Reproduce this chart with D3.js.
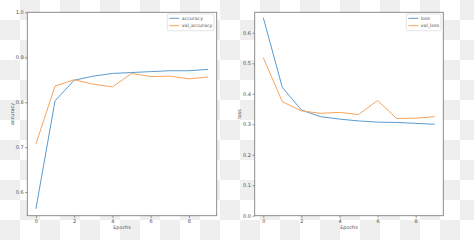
<!DOCTYPE html>
<html>
<head>
<meta charset="utf-8">
<script src="https://cdn.jsdelivr.net/npm/d3@7"></script>
<style>
  body { margin: 0; }
  svg { display: block; font-family: "DejaVu Sans", sans-serif; }
</style>
</head>
<body>
<svg id="chart" width="474" height="240"></svg>
<script>
// Data
var epochs = [0, 1, 2, 3, 4, 5, 6, 7, 8, 9];
var accuracy = [0.563, 0.803, 0.849, 0.858, 0.864, 0.866, 0.868, 0.870, 0.870, 0.873];
var valAccuracy = [0.707, 0.836, 0.850, 0.840, 0.834, 0.864, 0.857, 0.858, 0.852, 0.856];
var loss = [0.650, 0.421, 0.347, 0.325, 0.317, 0.311, 0.307, 0.306, 0.303, 0.300];
var valLoss = [0.519, 0.374, 0.344, 0.336, 0.339, 0.332, 0.378, 0.319, 0.320, 0.325];
var xTicks = [0, 2, 4, 6, 8];
var accTicks = [0.6, 0.7, 0.8, 0.9, 1.0];
var lossTicks = [0, 0.1, 0.2, 0.3, 0.4, 0.5, 0.6];

var blue = "#5b9bcf";
var orange = "#f7a45e";
var textColor = "#4d4d4d";

var svg = d3.select("#chart");

// Transparent background checkerboard
var defs = svg.append("defs");
var pat = defs.append("pattern")
    .attr("id", "checker")
    .attr("width", 40).attr("height", 40)
    .attr("patternUnits", "userSpaceOnUse");
pat.append("rect").attr("width", 40).attr("height", 40).attr("fill", "#ffffff");
pat.append("rect").attr("x", 20).attr("y", 0).attr("width", 20).attr("height", 20).attr("fill", "#efefef");
pat.append("rect").attr("x", 0).attr("y", 20).attr("width", 20).attr("height", 20).attr("fill", "#efefef");
svg.append("rect").attr("width", 474).attr("height", 240).attr("fill", "url(#checker)");

function drawPanel(opts) {
    var x = d3.scaleLinear()
        .domain([-0.45, 9.45])
        .range([opts.left, opts.right]);
    var y = d3.scaleLinear()
        .domain(opts.yDomain)
        .range([opts.bottom, opts.top]);

    var g = svg.append("g");

    g.append("rect")
        .attr("x", opts.left).attr("y", opts.top)
        .attr("width", opts.right - opts.left)
        .attr("height", opts.bottom - opts.top)
        .attr("fill", "#ffffff");

    // axes
    var xAxis = g.append("g")
        .attr("transform", "translate(0," + opts.bottom + ")")
        .call(d3.axisBottom(x).tickValues(xTicks).tickSize(2.2).tickPadding(1.5).tickFormat(d3.format("d")));
    var yAxis = g.append("g")
        .attr("transform", "translate(" + opts.left + ",0)")
        .call(d3.axisLeft(y).tickValues(opts.yTicks).tickSize(2.2).tickPadding(1.5).tickFormat(d3.format(".1f")));
    [xAxis, yAxis].forEach(function(a) {
        a.attr("color", textColor).attr("font-family", "DejaVu Sans").attr("font-size", 5);
        a.select(".domain").remove();
        a.selectAll("line").attr("stroke", "#777").attr("stroke-width", 0.8);
        a.selectAll("text").attr("fill", textColor);
    });

    var line = d3.line()
        .x(function(d, i) { return x(epochs[i]); })
        .y(function(d) { return y(d); });

    g.append("path").datum(opts.train)
        .attr("fill", "none").attr("stroke", blue).attr("stroke-width", 1)
        .attr("d", line);
    g.append("path").datum(opts.val)
        .attr("fill", "none").attr("stroke", orange).attr("stroke-width", 1)
        .attr("d", line);

    // frame
    g.append("rect")
        .attr("x", opts.left).attr("y", opts.top)
        .attr("width", opts.right - opts.left)
        .attr("height", opts.bottom - opts.top)
        .attr("fill", "none").attr("stroke", "#808080").attr("stroke-width", 0.9);

    // labels
    g.append("text")
        .attr("x", (opts.left + opts.right) / 2)
        .attr("y", opts.bottom + 13.5)
        .attr("text-anchor", "middle")
        .attr("fill", textColor)
        .style("font-size", "4.9px")
        .text("Epochs");
    g.append("text")
        .attr("transform", "translate(" + opts.yLabelX + "," + ((opts.top + opts.bottom) / 2) + ") rotate(-90)")
        .attr("text-anchor", "middle")
        .attr("fill", textColor)
        .style("font-size", "4.9px")
        .text(opts.yLabel);

    // legend
    var lg = g.append("g");
    lg.append("rect")
        .attr("x", opts.legendX).attr("y", 14)
        .attr("width", opts.legendW).attr("height", 16.7)
        .attr("rx", 1).attr("fill", "#ffffff").attr("fill-opacity", 0.85)
        .attr("stroke", "#d4d4d4").attr("stroke-width", 0.6);
    opts.names.forEach(function(name, i) {
        var ly = 18.3 + i * 7.4;
        lg.append("line")
            .attr("x1", opts.legendX + 2).attr("x2", opts.legendX + 12)
            .attr("y1", ly).attr("y2", ly)
            .attr("stroke", i === 0 ? blue : orange).attr("stroke-width", 1);
        lg.append("text")
            .attr("x", opts.legendX + 14.5).attr("y", ly + 1.7)
            .attr("fill", textColor)
            .style("font-size", "4.7px")
            .text(name);
    });
}

var accMin = d3.min(accuracy.concat(valAccuracy));
var accMax = d3.max(accuracy.concat(valAccuracy));
drawPanel({
    left: 27.3, right: 216.7, top: 12.3, bottom: 215.7,
    yDomain: [accMin - 0.05 * (accMax - accMin), 1.0],
    yTicks: accTicks,
    train: accuracy, val: valAccuracy,
    yLabel: "accuracy", yLabelX: 14,
    names: ["accuracy", "val_accuracy"],
    legendX: 167.3, legendW: 46.7
});

var lossMin = d3.min(loss.concat(valLoss));
var lossMax = d3.max(loss.concat(valLoss));
drawPanel({
    left: 254.7, right: 443.3, top: 12.3, bottom: 215.7,
    yDomain: [0, lossMax + 0.05 * (lossMax - lossMin)],
    yTicks: lossTicks,
    train: loss, val: valLoss,
    yLabel: "loss", yLabelX: 240.5,
    names: ["loss", "val_loss"],
    legendX: 406.3, legendW: 34.7
});
</script>
</body>
</html>
